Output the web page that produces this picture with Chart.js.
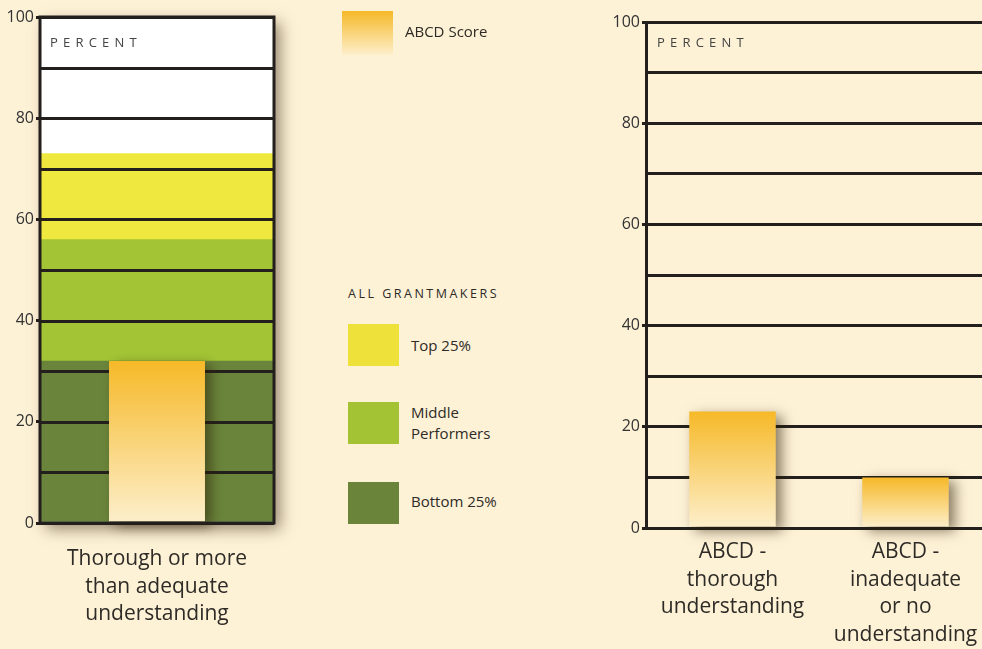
<!DOCTYPE html>
<html>
<head>
<meta charset="utf-8">
<title>ABCD Score vs. All Grantmakers</title>
<script src="https://cdn.jsdelivr.net/npm/chart.js@4.4.1/dist/chart.umd.min.js"></script>
<style>
  html, body { margin: 0; padding: 0; }
  body {
    width: 982px; height: 649px; overflow: hidden; position: relative;
    background: #fdf1d6; font-family: "Open Sans", sans-serif; color: #2e2b27;
  }
  #leftWrap  { position: absolute; left: 0;   top: 0; width: 300px; height: 649px; }
  #rightWrap { position: absolute; left: 590px; top: 0; width: 410px; height: 649px; }
  .percent {
    position: absolute; font-size: 13px; letter-spacing: 5.2px; color: #444;
    line-height: 14px;
  }
  .swatch { position: absolute; width: 51px; height: 42px; }
  .lgText { position: absolute; font-size: 15px; line-height: 21px; }
  .lgHead { position: absolute; font-size: 12.5px; letter-spacing: 2.5px; line-height: 14px; }
</style>
</head>
<body>
  <div id="leftWrap"><canvas id="leftChart"></canvas></div>
  <div id="rightWrap"><canvas id="rightChart"></canvas></div>

  <div class="percent" style="left:50px; top:35px;">PERCENT</div>
  <div class="percent" style="left:657px; top:35px;">PERCENT</div>

  <!-- legend -->
  <div class="swatch" style="left:342px; top:11px; height:44px; background:linear-gradient(#f6b928, #fdefcc);"></div>
  <div class="lgText" style="left:405px; top:21px;">ABCD Score</div>
  <div class="lgHead" style="left:348px; top:287px;">ALL GRANTMAKERS</div>
  <div class="swatch" style="left:348px; top:324px; background:#eee13a;"></div>
  <div class="lgText" style="left:411px; top:335px;">Top 25%</div>
  <div class="swatch" style="left:348px; top:402px; background:#a3c334;"></div>
  <div class="lgText" style="left:411px; top:402px;">Middle<br>Performers</div>
  <div class="swatch" style="left:348px; top:482px; background:#6a843a;"></div>
  <div class="lgText" style="left:411px; top:491px;">Bottom 25%</div>

<script>
// ---- data ----
const leftCategories  = [['Thorough or more', 'than adequate', 'understanding']];
const bottom25        = [32];
const middlePerform   = [24];
const top25           = [17];
const abcdLeft        = [32];

const rightCategories = [
  ['ABCD -', 'thorough', 'understanding'],
  ['ABCD -', 'inadequate', 'or no', 'understanding']
];
const abcdRight       = [23, 10];

const yMax       = 100;
const yStep      = 10;
const yLabelStep = 20;

// ---- styles ----
const INK     = '#231f1c';
const GOLD    = '#f6b928';
const CREAM   = '#fdefcc';
const C_TOP   = '#eee83f';
const C_MID   = '#a3c535';
const C_BOT   = '#6a853b';

function barGradient(ctx) {
  const chart = ctx.chart;
  if (!chart.chartArea || ctx.type !== 'data') return GOLD;
  const y = chart.scales.y;
  const g = chart.ctx.createLinearGradient(0, y.getPixelForValue(ctx.raw), 0, y.getPixelForValue(0));
  g.addColorStop(0, GOLD);
  g.addColorStop(1, CREAM);
  return g;
}

// drop shadow for datasets flagged with `shadow: true`
const shadowPlugin = {
  id: 'shadow',
  beforeDatasetDraw(chart, args) {
    const ds = chart.data.datasets[args.index];
    if (!ds.shadow) return;
    const c = chart.ctx;
    c.save();
    c.shadowColor = 'rgba(45,30,5,0.55)';
    c.shadowBlur = 12;
    c.shadowOffsetX = 6;
    c.shadowOffsetY = 4;
  },
  afterDatasetDraw(chart, args) {
    if (chart.data.datasets[args.index].shadow) chart.ctx.restore();
  }
};

// left box: white backing with shadow, grid over the bands, frame on top
const boxPlugin = {
  id: 'box',
  beforeDatasetsDraw(chart) {
    const { ctx, chartArea: a } = chart;
    ctx.save();
    ctx.shadowColor = 'rgba(45,30,5,0.5)';
    ctx.shadowBlur = 14;
    ctx.shadowOffsetX = 6;
    ctx.shadowOffsetY = 6;
    ctx.fillStyle = '#ffffff';
    ctx.fillRect(a.left, a.top, a.right - a.left, a.bottom - a.top);
    ctx.restore();
  },
  beforeDatasetDraw(chart, args) {
    if (!chart.data.datasets[args.index].overlay) return;
    const { ctx, chartArea: a, scales } = chart;
    ctx.save();
    ctx.strokeStyle = INK;
    ctx.lineWidth = 3;
    scales.y.ticks.forEach(t => {
      const py = Math.round(scales.y.getPixelForValue(t.value)) + 0.5;
      ctx.beginPath();
      ctx.moveTo(a.left, py);
      ctx.lineTo(a.right, py);
      ctx.stroke();
    });
    ctx.restore();
  },
  afterDatasetsDraw(chart) {
    const { ctx, chartArea: a } = chart;
    ctx.save();
    ctx.strokeStyle = INK;
    ctx.lineWidth = 3;
    ctx.strokeRect(a.left, a.top, a.right - a.left, a.bottom - a.top);
    ctx.restore();
  }
};

function yScale(width, labelColor) {
  return {
    min: 0, max: yMax, stacked: true,
    afterFit: s => { s.width = width; },
    ticks: {
      stepSize: yStep, padding: 2, color: labelColor,
      font: { family: 'Open Sans', size: 16 },
      callback: v => (v % yLabelStep === 0 ? v : '')
    },
    border: { display: false },
    grid: {
      color: INK, lineWidth: 3, tickLength: 4,
      tickColor: c => (c.tick && c.tick.value % yLabelStep === 0 ? INK : 'rgba(0,0,0,0)')
    }
  };
}

const catFont = { family: 'Open Sans', size: 21, lineHeight: 1.32 };

// ---- left chart: grantmaker bands with ABCD score ----
const leftY = yScale(40, '#333');
leftY.grid.drawOnChartArea = false;

new Chart(document.getElementById('leftChart'), {
  type: 'bar',
  data: {
    labels: leftCategories,
    datasets: [
      { label: 'ABCD Score', data: abcdLeft, stack: 'score', grouped: false, order: 0,
        backgroundColor: barGradient, barPercentage: 0.41, categoryPercentage: 1,
        shadow: true, overlay: true, clip: false },
      { label: 'Bottom 25%', data: bottom25, stack: 'bands', order: 1,
        backgroundColor: C_BOT, barPercentage: 1, categoryPercentage: 1 },
      { label: 'Middle Performers', data: middlePerform, stack: 'bands', order: 2,
        backgroundColor: C_MID, barPercentage: 1, categoryPercentage: 1 },
      { label: 'Top 25%', data: top25, stack: 'bands', order: 3,
        backgroundColor: C_TOP, barPercentage: 1, categoryPercentage: 1 }
    ]
  },
  options: {
    responsive: true, maintainAspectRatio: false, animation: false,
    layout: { padding: { top: 17, right: 26, bottom: 0, left: 0 } },
    plugins: { legend: { display: false }, tooltip: { enabled: false } },
    scales: {
      x: {
        afterFit: s => { s.height = 126; },
        grid: { display: false }, border: { display: false },
        ticks: { color: '#2e2b27', font: catFont, padding: 14, maxRotation: 0 }
      },
      y: leftY
    }
  },
  plugins: [boxPlugin, shadowPlugin]
});

// ---- right chart: ABCD understanding split ----
new Chart(document.getElementById('rightChart'), {
  type: 'bar',
  data: {
    labels: rightCategories,
    datasets: [
      { label: 'ABCD Score', data: abcdRight, backgroundColor: barGradient,
        barPercentage: 0.5, categoryPercentage: 1, shadow: true, clip: false }
    ]
  },
  options: {
    responsive: true, maintainAspectRatio: false, animation: false,
    layout: { padding: { top: 22, right: 8, bottom: 0, left: 0 } },
    plugins: { legend: { display: false }, tooltip: { enabled: false } },
    scales: {
      x: {
        afterFit: s => { s.height = 121; },
        grid: { display: false },
        border: { display: true, color: INK, width: 3 },
        ticks: { color: '#2e2b27', font: catFont, padding: 2, maxRotation: 0 }
      },
      y: Object.assign(yScale(56, '#333'), { border: { display: true, color: INK, width: 3 } })
    }
  },
  plugins: [shadowPlugin]
});
</script>
</body>
</html>
